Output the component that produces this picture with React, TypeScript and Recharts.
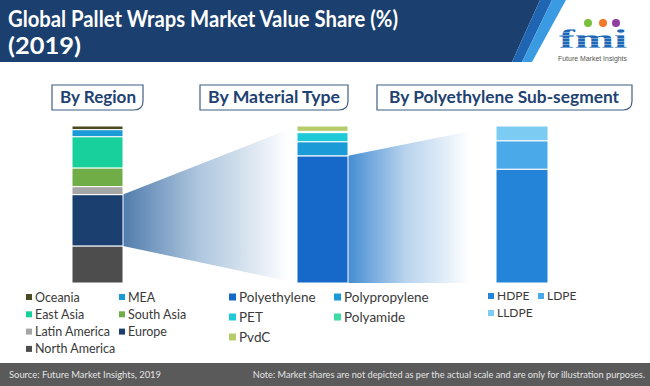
import { BarChart, Bar, XAxis, YAxis } from 'recharts'

// stacking order is bottom -> top
const REGION_NAMES = ['North America', 'Europe', 'Latin America', 'South Asia', 'East Asia', 'MEA', 'Oceania']
const REGION_SHARES = [23.6, 32.7, 5.1, 11.9, 19.9, 4.5, 2.3]
const REGION_COLORS = ['#4d4d4d', '#1b3f6e', '#a6a6a6', '#70ad47', '#17d09b', '#1a9ad6', '#4b4a1e']

const MATERIAL_NAMES = ['Polyethylene', 'Polypropylene', 'PET', 'Polyamide', 'PvdC']
const MATERIAL_SHARES = [81, 9, 5.8, 0.8, 3.4]
const MATERIAL_COLORS = ['#1769c9', '#1b9ad8', '#1ecad8', '#3ddca2', '#b6cc6b']

const PE_NAMES = ['HDPE', 'LDPE', 'LLDPE']
const PE_SHARES = [72.5, 18.1, 9.4]
const PE_COLORS = ['#2485d8', '#4aa9e8', '#7ccbf2']

const TITLE_LINES = ['Global Pallet Wraps Market Value Share (%)', '(2019)']
const SECTION_TITLES = ['By Region', 'By Material Type', 'By Polyethylene Sub-segment']
const SOURCE_TEXT = 'Source: Future Market Insights, 2019'
const NOTE_TEXT = 'Note: Market shares are not depicted as per the actual scale and are only for illustration purposes.'

const BAR_H = 157
const NAVY = '#1b3f6e'

const toRow = (label: string, names: string[], values: number[]) => {
  const row: Record<string, any> = { label }
  names.forEach((n, i) => { row[n] = values[i] })
  return [row]
}

// draws the segment plus the fading wedge that opens toward the next column
function funnelShape(gap: number, id: string, stops: [number, string, number][]) {
  return (props: any) => {
    const { x, y, width, height, fill, background } = props
    const top = background ? background.y : 0
    const bottom = background ? background.y + background.height : BAR_H
    const x1 = x + width
    const x2 = x1 + gap
    return (
      <g>
        <defs>
          <linearGradient id={id} x1="0" y1="0" x2="1" y2="0">
            {stops.map(([o, c, a], i) => <stop key={i} offset={o} stopColor={c} stopOpacity={a} />)}
          </linearGradient>
        </defs>
        <polygon points={`${x1},${y} ${x2},${top} ${x2},${bottom} ${x1},${y + height}`} fill={`url(#${id})`} />
        <rect x={x} y={y} width={width} height={height} fill={fill} stroke="#fff" strokeWidth={1} />
      </g>
    )
  }
}

function StackColumn({ label, names, values, colors, left, width, funnelAt, funnel }: {
  label: string, names: string[], values: number[], colors: string[], left: number, width: number,
  funnelAt?: string, funnel?: (p: any) => any
}) {
  return (
    <div style={{ position: 'absolute', left, top: 126, width, height: BAR_H }}>
      <BarChart width={width} height={BAR_H} data={toRow(label, names, values)}
        margin={{ top: 0, right: 0, bottom: 0, left: 0 }} barCategoryGap={0}>
        <XAxis dataKey="label" hide />
        <YAxis hide domain={[0, 100]} />
        {names.map((n, i) => (
          <Bar key={n} dataKey={n} stackId="a" fill={colors[i]} stroke="#fff" strokeWidth={1}
            isAnimationActive={false}
            shape={n === funnelAt ? funnel : undefined} />
        ))}
      </BarChart>
    </div>
  )
}

function Legend({ names, colors, x, y, colGap, rowGap, size, sq }: {
  names: string[], colors: string[], x: number, y: number, colGap: number, rowGap: number, size: number, sq: number
}) {
  return (
    <g>
      {names.map((n, i) => {
        const cx = x + (i % 2) * colGap
        const cy = y + Math.floor(i / 2) * rowGap
        return (
          <g key={n}>
            <rect x={cx} y={cy - sq / 2} width={sq} height={sq} fill={colors[i]} />
            <text x={cx + sq + 3} y={cy + size * 0.36} fontSize={size} fill="#3a3a3a" fontFamily="Lato">{n}</text>
          </g>
        )
      })}
    </g>
  )
}

function SectionBox({ x, w, text, tx, tw }: { x: number, w: number, text: string, tx: number, tw: number }) {
  const y = 85, h = 25, r = 9
  return (
    <g>
      <path d={`M${x},${y} H${x + w} V${y + h - r} Q${x + w},${y + h} ${x + w - r},${y + h} H${x} Z`}
        fill="#fff" stroke="#3f5f84" strokeWidth={1.2} />
      <text x={tx} y={103} fontSize={17} fontWeight="bold" fill="#1e4271" fontFamily="Lato"
        textLength={tw} lengthAdjust="spacingAndGlyphs">{text}</text>
    </g>
  )
}

export default function App() {
  const regionRev = [...REGION_NAMES].reverse()
  const regionColRev = [...REGION_COLORS].reverse()
  return (
    <div style={{ position: 'absolute', left: 0, top: 0, width: 650, height: 386, background: '#fff', overflow: 'hidden' }}>
      <style>{'.recharts-surface, .recharts-wrapper { overflow: visible !important; }'}</style>
      <svg width={650} height={386} style={{ position: 'absolute', left: 0, top: 0 }}>
        <defs>
          <pattern id="stripes" width="4" height="3" patternUnits="userSpaceOnUse">
            <rect width="4" height="2" fill="#2166b3" />
            <rect y="2" width="4" height="1" fill="#6fa3d8" />
          </pattern>
        </defs>
        {/* header band */}
        <polygon points="0,0 540,0 512,62 0,62" fill={NAVY} />
        <polygon points="540,0 552,0 522,62 512,62" fill="#1f65b2" />
        <polygon points="552,0 566,0 532,62 522,62" fill="#3b9be2" />
        <text x={8} y={27} fontSize={22} fontWeight="bold" fill="#fff" fontFamily="Lato"
          textLength={390} lengthAdjust="spacingAndGlyphs">{TITLE_LINES[0]}</text>
        <text x={8} y={54} fontSize={22} fontWeight="bold" fill="#fff" fontFamily="Lato"
          textLength={73} lengthAdjust="spacingAndGlyphs">{TITLE_LINES[1]}</text>
        {/* logo */}
        <circle cx={588} cy={23} r={4} fill="#7cbf3b" />
        <circle cx={603} cy={23} r={4} fill="#f07a2a" />
        <circle cx={616} cy={23} r={4} fill="#8e3fa0" />
        <text x={559} y={48} fontSize={28} fontWeight="bold" fill="url(#stripes)" fontFamily="Liberation Serif"
          textLength={68} lengthAdjust="spacingAndGlyphs">fmi</text>
        <text x={558} y={61} fontSize={7} fill="#555" fontFamily="Liberation Sans"
          textLength={69} lengthAdjust="spacingAndGlyphs">Future Market Insights</text>

        <SectionBox x={52} w={91} text={SECTION_TITLES[0]} tx={60} tw={76} />
        <SectionBox x={200} w={148} text={SECTION_TITLES[1]} tx={208} tw={132} />
        <SectionBox x={377} w={255} text={SECTION_TITLES[2]} tx={389} tw={230} />

        <Legend names={regionRev} colors={regionColRev} x={26} y={297} colGap={93} rowGap={17.3} size={12.5} sq={6} />
        <Legend names={MATERIAL_NAMES} colors={MATERIAL_COLORS} x={229} y={297} colGap={105} rowGap={20} size={13.5} sq={7} />
        <Legend names={PE_NAMES} colors={PE_COLORS} x={488} y={296} colGap={50} rowGap={17} size={12} sq={6} />

        {/* footer */}
        <rect x={0} y={363} width={650} height={23} fill="#5a5a5a" />
        <text x={9} y={378} fontSize={10} fill="#e4e4e4" fontFamily="Lato"
          textLength={152} lengthAdjust="spacingAndGlyphs">{SOURCE_TEXT}</text>
        <text x={645} y={378} fontSize={9.2} fill="#e4e4e4" fontFamily="Lato" textAnchor="end">{NOTE_TEXT}</text>
      </svg>

      <StackColumn label="Region" names={REGION_NAMES} values={REGION_SHARES} colors={REGION_COLORS}
        left={72} width={51} funnelAt="Europe"
        funnel={funnelShape(174, 'fadeA', [[0, '#4775a8', 0.95], [0.45, '#a8c2dc', 0.9], [0.95, '#ffffff', 1]])} />
      <StackColumn label="Material" names={MATERIAL_NAMES} values={MATERIAL_SHARES} colors={MATERIAL_COLORS}
        left={297} width={51} funnelAt="Polyethylene"
        funnel={funnelShape(148, 'fadeB', [[0, '#3a86cf', 0.95], [0.4, '#b3d0ec', 0.9], [0.82, '#ffffff', 1]])} />
      <StackColumn label="Polyethylene" names={PE_NAMES} values={PE_SHARES} colors={PE_COLORS}
        left={496} width={52} />
    </div>
  )
}
